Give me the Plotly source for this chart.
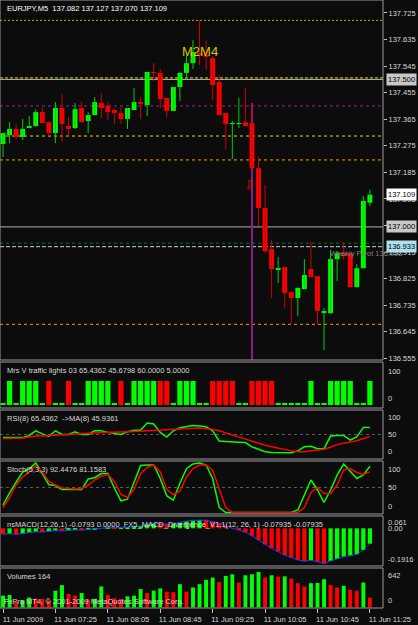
import plotly.graph_objects as go

# ---------------- data ----------------
times = ["06:45", "06:50", "06:55", "07:00", "07:05", "07:10", "07:15", "07:20", "07:25", "07:30",
         "07:35", "07:40", "07:45", "07:50", "07:55", "08:00", "08:05", "08:10", "08:15", "08:20",
         "08:25", "08:30", "08:35", "08:40", "08:45", "08:50", "08:55", "09:00", "09:05", "09:10",
         "09:15", "09:20", "09:25", "09:30", "09:35", "09:40", "09:45", "09:50", "09:55", "10:00",
         "10:05", "10:10", "10:15", "10:20", "10:25", "10:30", "10:35", "10:40", "10:45", "10:50",
         "10:55", "11:00", "11:05", "11:10", "11:15", "11:20", "11:25"]

open_ = [137.281, 137.311, 137.332, 137.305, 137.335, 137.342, 137.389, 137.355, 137.318, 137.403,
         137.342, 137.335, 137.403, 137.359, 137.379, 137.420, 137.410, 137.396, 137.386, 137.366,
         137.396, 137.423, 137.413, 137.525, 137.522, 137.437, 137.393, 137.474, 137.522, 137.555,
         137.589, 137.583, 137.572, 137.491, 137.386, 137.349, 137.349, 137.355, 137.352, 137.199,
         137.064, 136.925, 136.857, 136.864, 136.779, 136.759, 136.789, 136.857, 136.833, 136.711,
         136.708, 136.891, 136.911, 136.911, 136.796, 136.860, 137.082]
high = [137.318, 137.355, 137.349, 137.366, 137.376, 137.399, 137.403, 137.359, 137.423, 137.450,
        137.372, 137.420, 137.423, 137.389, 137.440, 137.454, 137.423, 137.403, 137.406, 137.403,
        137.471, 137.440, 137.525, 137.555, 137.535, 137.437, 137.474, 137.525, 137.583, 137.633,
        137.701, 137.633, 137.579, 137.515, 137.386, 137.359, 137.437, 137.471, 137.420, 137.237,
        137.142, 136.955, 136.898, 136.864, 136.779, 136.796, 136.891, 136.949, 136.833, 136.725,
        136.922, 136.918, 136.945, 136.911, 136.874, 137.105, 137.127]
low = [137.237, 137.284, 137.298, 137.294, 137.335, 137.339, 137.352, 137.308, 137.284, 137.288,
       137.305, 137.332, 137.352, 137.318, 137.379, 137.369, 137.362, 137.349, 137.349, 137.332,
       137.396, 137.366, 137.376, 137.494, 137.403, 137.372, 137.393, 137.427, 137.501, 137.535,
       137.549, 137.532, 137.430, 137.379, 137.261, 137.230, 137.335, 137.342, 137.193, 137.003,
       136.911, 136.759, 136.810, 136.725, 136.674, 136.698, 136.789, 136.830, 136.671, 136.583,
       136.705, 136.816, 136.888, 136.796, 136.796, 136.860, 137.070]
close = [137.318, 137.332, 137.305, 137.332, 137.342, 137.389, 137.352, 137.318, 137.403, 137.349,
         137.332, 137.399, 137.355, 137.379, 137.423, 137.403, 137.389, 137.386, 137.366, 137.403,
         137.423, 137.416, 137.525, 137.522, 137.433, 137.393, 137.474, 137.522, 137.555, 137.593,
         137.583, 137.576, 137.481, 137.379, 137.349, 137.352, 137.352, 137.342, 137.199, 137.064,
         136.918, 136.857, 136.860, 136.776, 136.759, 136.793, 136.837, 136.830, 136.715, 136.715,
         136.891, 136.911, 136.901, 136.796, 136.860, 137.088, 137.109]

# traffic lights: G = green light, R = red light, n = neutral
traffic_state = ["n", "G", "n", "G", "G", "G", "n", "R", "n", "n",
                 "R", "n", "n", "G", "G", "G", "G", "n", "R", "n",
                 "G", "G", "G", "G", "R", "R", "n", "G", "G", "G",
                 "n", "n", "R", "R", "R", "R", "n", "n", "R", "R",
                 "R", "R", "n", "n", "n", "n", "n", "G", "n", "n",
                 "G", "G", "G", "G", "n", "n", "G"]
traffic_high = 60.0
traffic_low = 5.0

rsi = [43.3, 43.3, 43.3, 43.3, 48, 58, 51.3, 46, 58, 50,
       50, 56, 50, 50, 58, 58, 54.6, 52.6, 50, 56,
       59.3, 59.3, 74.7, 72.6, 54.6, 44.6, 58, 64.6, 66.6, 69.3,
       68.6, 66.6, 58, 36, 34.6, 34.6, 33.3, 32.6, 23.3, 18,
       12.6, 11.3, 11.3, 11.3, 10.6, 14.6, 23.3, 24.6, 19.3, 19.3,
       46.6, 48, 48, 38, 44.6, 65.4, 65.4]
rsi_ma = [41.3, 41.3, 41.3, 42.6, 44.6, 46.6, 46.6, 48, 49.3, 49.3,
          50, 51.3, 51.3, 52.6, 53.3, 54.6, 54.6, 54.6, 54.6, 56,
          56.6, 57.3, 58, 59.3, 60, 60, 60, 61.3, 62.6, 63.3,
          64, 62.6, 61.3, 58, 53.3, 49.3, 44.6, 40, 36, 31.3,
          26.6, 23.3, 20, 18, 14.6, 12.6, 12.6, 14.6, 16.6, 18,
          22.6, 28, 31.3, 33.3, 36.6, 41.3, 45.9]

stoch_k = [15, 39.4, 60.5, 81, 87.5, 99, 78, 55.4, 54, 45.8,
           45.8, 45.8, 45.8, 67, 69.5, 78, 78, 49, 23.4, 26.6,
           58.6, 93.9, 95, 95, 68.2, 33, 24.6, 58.6, 87.5, 97,
           99, 95, 68, 10, 0, 0, 0, 0, 0, 0,
           0, 0, 0, 0, 0, 5, 35, 65, 45, 20,
           45, 75, 97, 82, 68, 75, 92.4]
stoch_d = [10, 30, 55, 71, 81, 94, 81, 62, 55, 49,
           48, 47, 48, 55, 65, 73, 76, 62, 36, 30,
           46, 78, 90, 95, 81, 46, 36, 42.6, 71, 88,
           95, 95, 84, 49, 10, 0, 0, 0, 0, 0,
           0, 0, 0, 0, 0, 0, 10, 40, 50, 38,
           38, 55, 85, 88, 80, 76, 81.2]

macd = [-0.030, -0.028, -0.031, -0.027, -0.022, -0.018, -0.019, -0.016, -0.012, -0.013,
        -0.010, -0.008, -0.009, -0.005, -0.004, 0.000, 0.003, 0.002, 0.004, 0.006,
        0.009, 0.012, 0.020, 0.026, 0.024, 0.021, 0.024, 0.031, 0.037, 0.041,
        0.043, 0.042, 0.034, 0.026, 0.014, -0.000, -0.009, -0.020, -0.038, -0.060,
        -0.083, -0.103, -0.120, -0.138, -0.151, -0.163, -0.169, -0.165, -0.172, -0.181,
        -0.168, -0.158, -0.146, -0.141, -0.134, -0.112, -0.0793]

volume = [197, 208, 90, 120, 165, 150, 140, 115, 280, 373,
          225, 197, 241, 132, 145, 351, 208, 153, 140, 186,
          197, 307, 241, 280, 318, 263, 255, 389, 263, 334,
          389, 461, 500, 428, 527, 554, 417, 538, 554, 593,
          500, 538, 516, 520, 483, 406, 351, 406, 410, 472,
          378, 334, 362, 296, 280, 417, 164]

tick_times = ["06:45", "07:25", "08:05", "08:45", "09:25", "10:05", "10:45", "11:25"]
tick_labels = ["11 Jun 2009", "11 Jun 07:25", "11 Jun 08:05", "11 Jun 08:45",
               "11 Jun 09:25", "11 Jun 10:05", "11 Jun 10:45", "11 Jun 11:25"]
price_ticks = [137.725, 137.635, 137.545, 137.455, 137.365, 137.275, 137.185, 137.095,
               137.005, 136.915, 136.825, 136.735, 136.645, 136.555]
price_levels = [137.700, 137.505, 137.500, 137.410, 137.308, 137.227, 137.000, 136.945, 136.933, 136.670]
price_boxes = [137.500, 137.109, 137.000, 136.933]
marker_time = "09:55"
marker_top = 137.420

for arr in (open_, high, low, close, traffic_state, rsi, rsi_ma, stoch_k, stoch_d, macd, volume):
    assert len(arr) == len(times), len(arr)

# ---------------- styling ----------------
W, H = 418, 625
BG = "#0b0c0b"
FRAME = "#9a9a9a"
TXT = "#d8d8d8"
UP = "#00ff00"
DN = "#ff0000"
FONT = "Liberation Sans"
FS = 7.5
XR = 383 / W
MAIN_RANGE = [136.549, 137.769]


def dom(top, bottom):
    return [1 - bottom / H, 1 - top / H]


panes = {
    "y": (0, 360), "y2": (362, 408), "y3": (410, 459),
    "y4": (461, 514), "y5": (516, 566), "y6": (568, 608),
}

fig = go.Figure()

# candle wicks
for is_up, col in ((True, "#00d000"), (False, "#d00000")):
    xs, ys = [], []
    for t, o, h, l, c in zip(times, open_, high, low, close):
        if (c >= o) == is_up:
            xs += [t, t, None]
            ys += [l, h, None]
    fig.add_trace(go.Scatter(x=xs, y=ys, mode="lines", line=dict(color=col, width=1),
                             hoverinfo="skip", showlegend=False, xaxis="x", yaxis="y"))

# candle bodies
fig.add_trace(go.Bar(
    x=times,
    y=[max(abs(c - o), 0.003) for o, c in zip(open_, close)],
    base=[min(o, c) for o, c in zip(open_, close)],
    width=0.75,
    marker=dict(color=[UP if c >= o else DN for o, c in zip(open_, close)], line=dict(width=0)),
    showlegend=False, hoverinfo="skip", xaxis="x", yaxis="y"))

# traffic lights
fig.add_trace(go.Bar(
    x=times,
    y=[traffic_low if s == "n" else traffic_high for s in traffic_state],
    width=0.8,
    marker=dict(color=[DN if s == "R" else UP for s in traffic_state], line=dict(width=0)),
    showlegend=False, hoverinfo="skip", xaxis="x", yaxis="y2"))

# RSI
fig.add_trace(go.Scatter(x=times, y=rsi, mode="lines", line=dict(color=UP, width=1.5),
                         showlegend=False, hoverinfo="skip", xaxis="x", yaxis="y3"))
fig.add_trace(go.Scatter(x=times, y=rsi_ma, mode="lines", line=dict(color=DN, width=1.5),
                         showlegend=False, hoverinfo="skip", xaxis="x", yaxis="y3"))

# Stochastic
fig.add_trace(go.Scatter(x=times, y=stoch_k, mode="lines", line=dict(color=UP, width=1.5),
                         showlegend=False, hoverinfo="skip", xaxis="x", yaxis="y4"))
fig.add_trace(go.Scatter(x=times, y=stoch_d, mode="lines", line=dict(color=DN, width=1.5),
                         showlegend=False, hoverinfo="skip", xaxis="x", yaxis="y4"))

# MACD
macd_col = [DN] + [UP if macd[i] > macd[i - 1] else DN for i in range(1, len(macd))]
fig.add_trace(go.Bar(x=times, y=macd, width=0.65,
                     marker=dict(color=macd_col, line=dict(width=0)),
                     showlegend=False, hoverinfo="skip", xaxis="x", yaxis="y5"))
fig.add_trace(go.Scatter(x=times, y=macd, mode="lines", line=dict(color="#2838ff", width=1),
                         showlegend=False, hoverinfo="skip", xaxis="x", yaxis="y5"))

# Volumes
vol_col = [UP] + [UP if volume[i] > volume[i - 1] else DN for i in range(1, len(volume))]
fig.add_trace(go.Bar(x=times, y=volume, width=0.6,
                     marker=dict(color=vol_col, line=dict(width=0)),
                     showlegend=False, hoverinfo="skip", xaxis="x", yaxis="y6"))

# ---------------- layout ----------------
sub_axis = dict(anchor="x", side="right", showgrid=False, zeroline=False,
                showticklabels=False, ticks="", fixedrange=True)

layout = dict(
    width=W, height=H, autosize=False, margin=dict(l=0, r=0, t=0, b=0, autoexpand=False),
    paper_bgcolor=BG, plot_bgcolor=BG, barmode="overlay", showlegend=False,
    hovermode=False, font=dict(family=FONT, size=FS, color=TXT),
    xaxis=dict(type="category", categoryorder="array", categoryarray=times,
               domain=[0, XR], range=[-0.46, 58.0], anchor="y6",
               tickmode="array", tickvals=tick_times, ticktext=tick_labels,
               ticks="outside", ticklen=4, tickcolor="#c0c0c0", ticklabelshift=20,
               tickfont=dict(size=FS, color=TXT), showgrid=False, zeroline=False,
               showline=False, fixedrange=True, automargin=False),
    yaxis=dict(domain=dom(*panes["y"]), range=MAIN_RANGE, anchor="x", side="right",
               tickmode="array", tickvals=price_ticks, tickformat=".3f",
               ticks="outside", ticklen=3, tickcolor="#c0c0c0",
               tickfont=dict(size=FS, color=TXT), showgrid=False, zeroline=False,
               showline=False, fixedrange=True, automargin=False),
    yaxis2=dict(domain=dom(*panes["y2"]), range=[-7.5, 107.5], **sub_axis),
    yaxis3=dict(domain=dom(*panes["y3"]), range=[-3, 103], **sub_axis),
    yaxis4=dict(domain=dom(*panes["y4"]), range=[-3, 103], **sub_axis),
    yaxis5=dict(domain=dom(*panes["y5"]), range=[-0.194, 0.0635], **sub_axis),
    yaxis6=dict(domain=dom(*panes["y6"]), range=[-10, 660], **sub_axis),
)
fig.update_layout(**layout)

shapes = []
# pane frames
for ax in panes:
    shapes.append(dict(type="rect", xref="x domain", yref=f"{ax} domain", x0=0, x1=1, y0=0, y1=1,
                       line=dict(color=FRAME, width=1), layer="above"))

# horizontal level lines in main pane
level_styles = [("#b8a800", "2px,2px"), ("#e8d800", "3px,2px"), ("#c0c0c0", "solid"),
                ("#a0209a", "3px,3px"), ("#e8d800", "3px,3px"), ("#ff9c00", "3px,3px"),
                ("#b0b0b0", "solid"), ("#1e6e1e", "3px,3px"), ("#c8d0d8", "4px,2px"),
                ("#ff9c00", "3px,3px")]
for lv, (col, dash) in zip(price_levels, level_styles):
    shapes.append(dict(type="line", xref="x domain", yref="y", x0=0, x1=1, y0=lv, y1=lv,
                       line=dict(color=col, width=1, dash=dash), layer="below"))

# vertical marker line
shapes.append(dict(type="line", xref="x", yref="y", x0=marker_time, x1=marker_time,
                   y0=marker_top, y1=MAIN_RANGE[0], line=dict(color="#8c1a8c", width=2),
                   layer="below"))

# 50 levels in RSI / Stoch
for ax in ("y3", "y4"):
    shapes.append(dict(type="line", xref="x domain", yref=ax, x0=0, x1=1, y0=50, y1=50,
                       line=dict(color="#5a5a5a", width=1, dash="3px,3px"), layer="below"))
fig.update_layout(shapes=shapes)

ann = []
LX = 5 / W
# main title
ann.append(dict(xref="paper", yref="y domain", x=LX, y=1, xanchor="left", yanchor="top", yshift=-2,
                text="EURJPY,M5  137.082 137.127 137.070 137.109", showarrow=False,
                font=dict(size=FS, color="#ffffff")))
# pane titles
titles = {
    "y2": "Mrs V traffic lights 03 65.4362 45.6798 60.0000 5.0000",
    "y3": "RSI(8) 65.4362  ->MA(8) 45.9361",
    "y4": "Stoch(5,3,3) 92.4476 81.1583",
    "y5": "nsMACD(12,26,1) -0.0793 0.0000  FX5_MACD_Divergence_V1.1(12, 26, 1) -0.07935 -0.07935",
    "y6": "Volumes 164",
}
for ax, t in titles.items():
    ann.append(dict(xref="paper", yref=f"{ax} domain", x=LX, y=1, xanchor="left", yanchor="top",
                    yshift=-2, text=t, showarrow=False, font=dict(size=FS, color=TXT)))
ann.append(dict(xref="paper", yref="y6 domain", x=2 / W, y=0, xanchor="left", yanchor="bottom",
                text="FxPro MT4, © 2001-2009 MetaQuotes Software Corp.", showarrow=False,
                font=dict(size=FS, color=TXT)))

# sub-pane scale labels
scales = {
    "y2": [(100, "100", "top"), (0, "0", "bottom")],
    "y3": [(100, "100", "top"), (50, "50", "middle"), (0, "0", "bottom")],
    "y4": [(100, "100", "top"), (50, "50", "middle"), (0, "0", "bottom")],
    "y5": [(0.061, "0.061", "top"), (0, "0.00", "middle"), (-0.1916, "-0.1916", "bottom")],
    "y6": [(642, "642", "top"), (0, "0", "bottom")],
}
SX = 386 / W
for ax, items in scales.items():
    for v, t, anc in items:
        ann.append(dict(xref="paper", yref=ax, x=SX, y=v, xanchor="left", yanchor=anc,
                        text=t, showarrow=False, font=dict(size=FS, color=TXT)))

# chart objects
ann.append(dict(xref="x", yref="y", x="09:15", y=137.596, text="M2M4", showarrow=False,
                font=dict(size=13, color="#d4c800")))
ann.append(dict(xref="x", yref="y", x=marker_time, y=137.142, xshift=-2, text="⇩", showarrow=False,
                font=dict(size=13, color="#e00000", family="DejaVu Sans")))
ann.append(dict(xref="x", yref="y", x="10:55", y=136.933, xanchor="left", yanchor="top", xshift=-3,
                text="Weekly Pivot 136.933", showarrow=False, font=dict(size=FS, color="#808080")))

# price boxes
box_bg = ["#c8c8c8", "#ffffff", "#c8c8c8", "#aee0ee"]
for p, bg in zip(price_boxes, box_bg):
    ann.append(dict(xref="paper", yref="y", x=SX, y=p, xanchor="left", yanchor="middle",
                    text=f"{p:.3f}", showarrow=False, bgcolor=bg, borderpad=1,
                    font=dict(size=FS, color="#000000")))
fig.update_layout(annotations=ann)

fig.write_html("out.html")
